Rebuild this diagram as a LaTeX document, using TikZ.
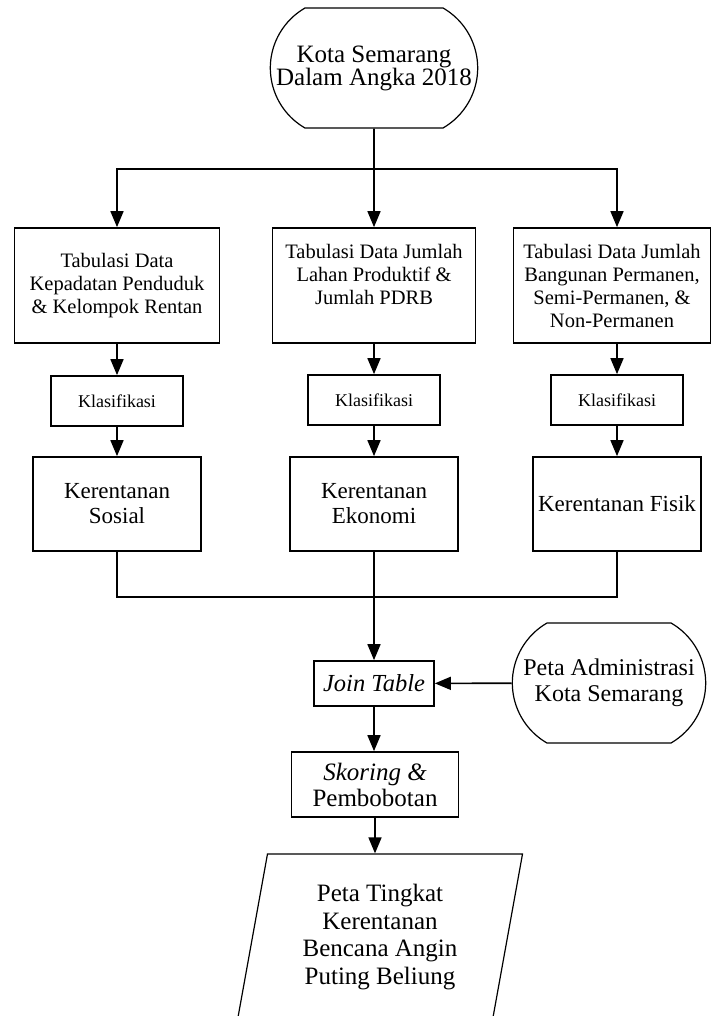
\documentclass[tikz,border=0pt]{standalone}
\usepackage{fontspec}
\setmainfont{Liberation Serif}
\usepackage{tikz}
\usetikzlibrary{shapes, arrows.meta}

\tikzset{
	box/.style={draw, rectangle, align=center, inner sep=2pt, line width=1.7pt},
	term/.style={draw, rounded rectangle, rounded rectangle arc length=120, align=center, line width=1.2pt},
	tabbox/.style={box, minimum height=115, font=\fontsize{20.5}{23}\selectfont},
	klasbox/.style={box, minimum width=132, minimum height=50, font=\fontsize{18}{20}\selectfont},
	kerbox/.style={box, minimum width=168, minimum height=94, font=\fontsize{23}{25}\selectfont},
	arr/.style={line width=1.6pt, -{Triangle[length=16pt,width=13pt]}},
	conn/.style={line width=1.6pt}
}

\begin{document}
\begin{tikzpicture}[x=1pt, y=-1pt]
			\useasboundingbox (0,0) rectangle (711,1016);
			\clip (0,0) rectangle (711,1016);
			\node (kota) [term, minimum width=214, minimum height=120, font=\fontsize{25}{23}\selectfont] at (374,68) {Kota Semarang\\Dalam Angka 2018};
			\node (tab1) [tabbox, minimum width=205] at (117,285.5) {Tabulasi Data\\Kepadatan Penduduk\\\& Kelompok Rentan};
			\node (tab2) [tabbox, minimum width=203] at (374,285.5) {Tabulasi Data Jumlah\\Lahan Produktif \&\\Jumlah PDRB\\\mbox{}};
			\node (tab3) [tabbox, minimum width=197] at (612,285.5) {Tabulasi Data Jumlah\\Bangunan Permanen,\\Semi-Permanen, \&\\Non-Permanen};
			\node (klas1) [klasbox] at (117,401) {Klasifikasi};
			\node (klas2) [klasbox] at (374,400) {Klasifikasi};
			\node (klas3) [klasbox] at (617,400) {Klasifikasi};
			\node (ker1) [kerbox] at (117,504) {Kerentanan\\Sosial};
			\node (ker2) [kerbox] at (374,504) {Kerentanan\\Ekonomi};
			\node (ker3) [kerbox] at (617,504) {Kerentanan Fisik};
			\node (join) [box, minimum width=120, minimum height=45, font=\fontsize{24.5}{26}\selectfont\itshape] at (374,683.5) {Join Table};
			\node (admin) [term, minimum width=200, minimum height=120, font=\fontsize{24}{26}\selectfont] at (609,683) {Peta Administrasi\\Kota Semarang};
			\node (skor) [box, minimum width=167, minimum height=65, font=\fontsize{25}{26}\selectfont] at (375,784.5) {\textit{Skoring \&}\\Pembobotan};
			\node (hasil) [draw, trapezium, trapezium left angle=75, trapezium right angle=105, trapezium stretches body, minimum width=285, minimum height=166, line width=1.2pt, align=center, font=\fontsize{25}{27.5}\selectfont] at (380,937) {Peta Tingkat\\Kerentanan\\Bencana Angin\\Puting Beliung};
			\coordinate (split) at (374,169);
			\coordinate (merge) at (374,597);

			\draw[conn] (kota) -- (split);
			\draw[arr] (split) -| (tab1);
			\draw[arr] (split) -- (tab2);
			\draw[arr] (split) -| (klas3 |- tab3.north);
			\draw[arr] (tab1) -- (klas1);
			\draw[arr] (tab2) -- (klas2);
			\draw[arr] (tab3.south -| klas3) -- (klas3);
			\draw[arr] (klas1) -- (ker1);
			\draw[arr] (klas2) -- (ker2);
			\draw[arr] (klas3) -- (ker3);
			\draw[conn] (ker1) |- (merge);
			\draw[conn] (ker3) |- (merge);
			\draw[arr] (ker2) -- (join);
			\draw[arr] (admin) -- (join);
			\draw[arr] (join) -- (join |- skor.north);
			\draw[arr] (skor) -- (skor |- hasil.north);
		\end{tikzpicture}
\end{document}
